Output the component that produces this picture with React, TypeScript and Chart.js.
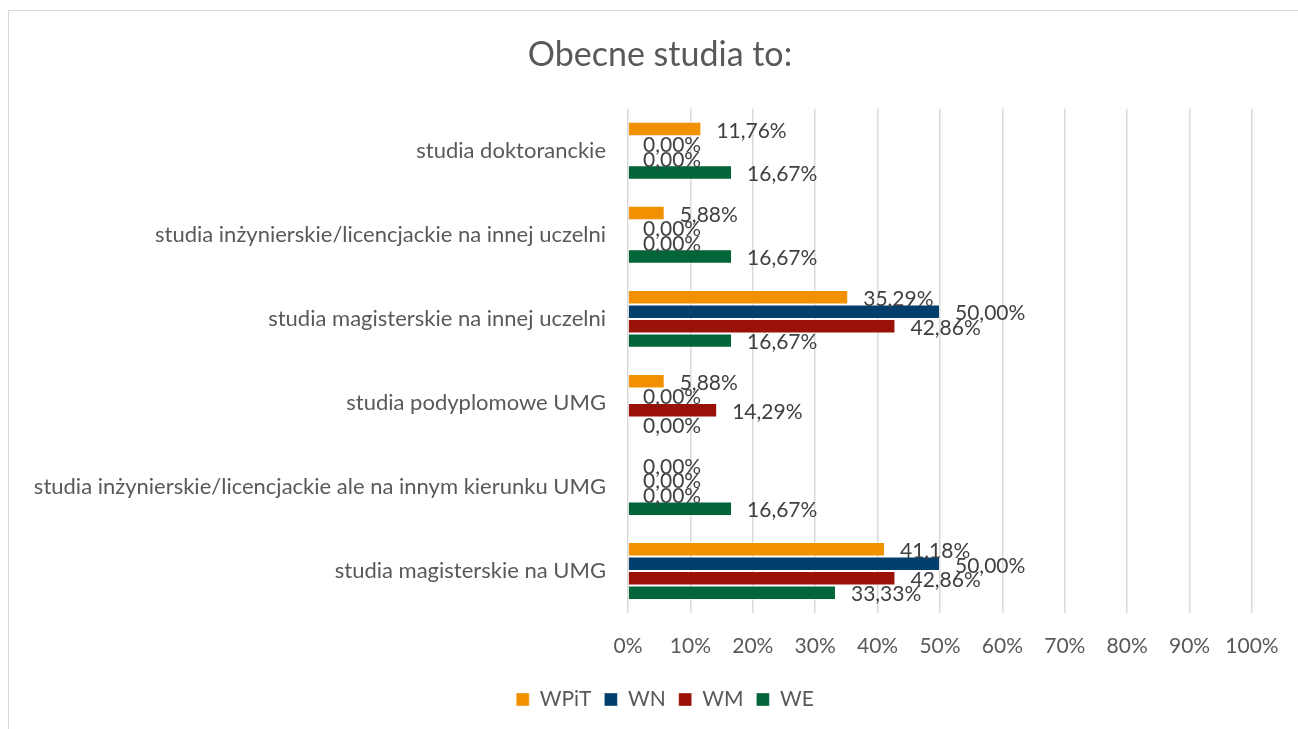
import React, { useEffect, useRef } from "react";
import { Chart, registerables } from "chart.js";

Chart.register(...registerables);

const categories = [
  "studia doktoranckie",
  "studia inżynierskie/licencjackie na innej uczelni",
  "studia magisterskie na innej uczelni",
  "studia podyplomowe UMG",
  "studia inżynierskie/licencjackie ale na innym kierunku UMG",
  "studia magisterskie na UMG",
];
const seriesNames = ["WPiT", "WN", "WM", "WE"];
const wpitValues = [11.76, 5.88, 35.29, 5.88, 0, 41.18];
const wnValues = [0, 0, 50, 0, 0, 50];
const wmValues = [0, 0, 42.86, 14.29, 0, 42.86];
const weValues = [16.67, 16.67, 16.67, 0, 16.67, 33.33];
const seriesColors = ["#F29100", "#023F6D", "#9A1107", "#02653A"];
const xTicks = [0, 10, 20, 30, 40, 50, 60, 70, 80, 90, 100];
const titleText = "Obecne studia to:";

const FONT = "Lato, 'Open Sans', sans-serif";

const labelPlugin = {
  id: "barValueLabels",
  beforeDraw(chart: any) {
    // let the long category labels extend left of the layout padding without clipping
    const y = chart.scales.y;
    if (y) y.left = 0;
    const lg = chart.legend;
    if (lg && !lg._shifted) {
      lg.left += 5;
      lg.right += 5;
      lg._shifted = true;
    }
  },
  afterDatasetsDraw(chart: any) {
    const ctx = chart.ctx;
    ctx.save();
    ctx.font = `21px ${FONT}`;
    ctx.fillStyle = "#404040";
    ctx.textAlign = "left";
    ctx.textBaseline = "middle";
    chart.data.datasets.forEach((ds: any, di: number) => {
      const meta = chart.getDatasetMeta(di);
      meta.data.forEach((bar: any, i: number) => {
        const v = ds.data[i] as number;
        const txt = v.toFixed(2).replace(".", ",") + "%";
        ctx.fillText(txt, bar.x + 15, bar.y + 2);
      });
    });
    ctx.restore();
  },
};

export default function App() {
  const ref = useRef<HTMLCanvasElement | null>(null);
  useEffect(() => {
    if (!ref.current) return;
    const data = [wpitValues, wnValues, wmValues, weValues];
    const chart = new Chart(ref.current, {
      type: "bar",
      data: {
        labels: categories,
        datasets: seriesNames.map((name, i) => ({
          label: name,
          data: data[i],
          backgroundColor: seriesColors[i],
          borderColor: "rgba(255,255,255,0.35)",
          borderWidth: 1,
          categoryPercentage: 0.69,
          barPercentage: 1,
        })),
      },
      options: {
        indexAxis: "y",
        animation: false,
        responsive: false,
        devicePixelRatio: 1,
        layout: { padding: { left: 68, right: 46, top: 0, bottom: 9 } },
        plugins: {
          title: {
            display: true,
            text: titleText,
            color: "#595959",
            font: { family: FONT, size: 34, weight: "normal" },
            padding: { top: 35, bottom: 33 },
          },
          legend: {
            position: "bottom",
            labels: {
              color: "#595959",
              font: { family: FONT, size: 21 },
              boxWidth: 13,
              boxHeight: 13,
              padding: 13,
            },
          },
          tooltip: { enabled: false },
        },
        scales: {
          x: {
            min: 0,
            max: 100,
            afterBuildTicks: (scale: any) => {
              scale.ticks = xTicks.map((v) => ({ value: v }));
            },
            afterFit: (scale: any) => {
              scale.height = 63;
              scale.paddingLeft = 30;
              scale.paddingRight = 30;
            },
            ticks: {
              color: "#595959",
              font: { family: FONT, size: 21 },
              padding: 21,
              callback: (v: any) => v + "%",
              maxRotation: 0,
              autoSkip: false,
            },
            grid: { color: "#d9d9d9", lineWidth: 1.5, drawTicks: false },
            border: { display: false },
          },
          y: {
            afterFit: (scale: any) => {
              scale.width = 560;
            },
            ticks: {
              color: "#595959",
              font: { family: FONT, size: 22 },
              padding: 22,
            },
            grid: { display: false, drawTicks: false },
            border: { display: false },
          },
        },
      },
      plugins: [labelPlugin],
    });
    return () => chart.destroy();
  }, []);
  return (
    <div style={{ position: "fixed", left: 0, top: 0, width: 1298, height: 729, background: "#fff", overflow: "hidden" }}>
      <div
        style={{
          position: "absolute",
          left: 8,
          top: 10,
          width: 1310,
          height: 740,
          border: "1px solid #d9d9d9",
          boxSizing: "border-box",
        }}
      />
      <canvas ref={ref} width={1298} height={729} style={{ position: "absolute", left: 0, top: 0 }} />
    </div>
  );
}
